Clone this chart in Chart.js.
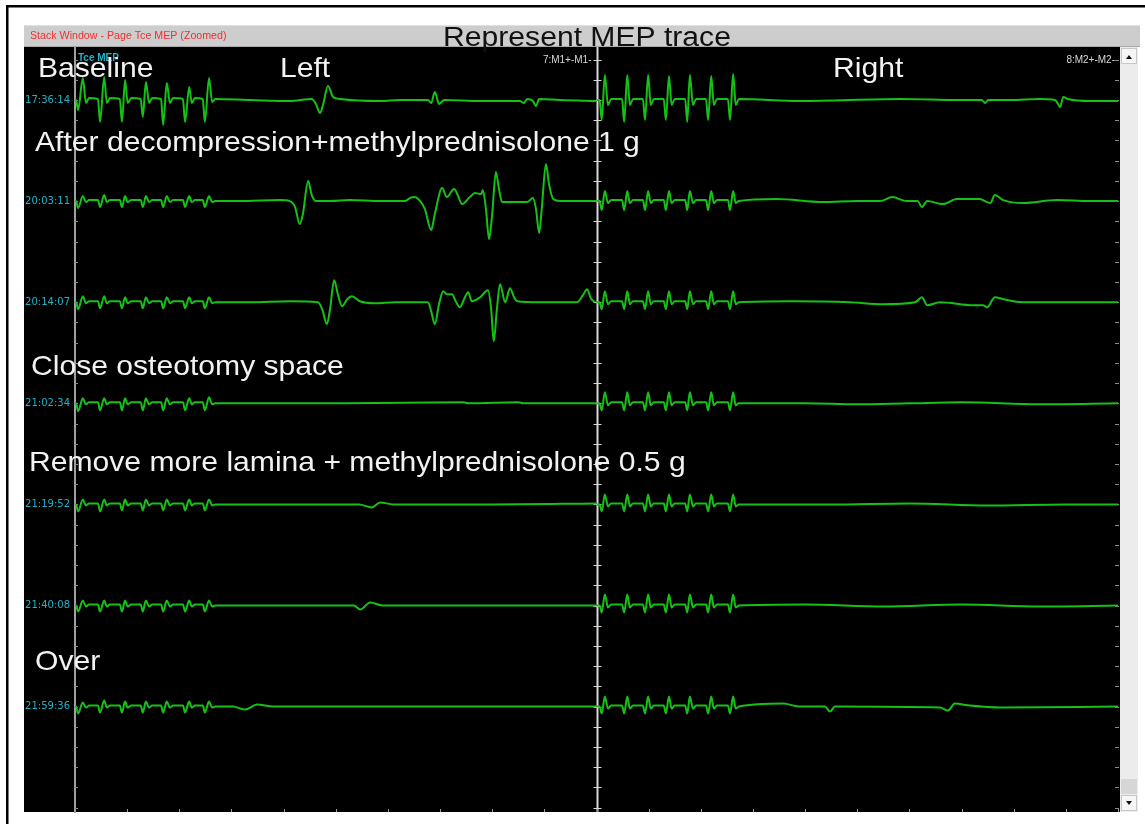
<!DOCTYPE html>
<html>
<head>
<meta charset="utf-8">
<script src="https://cdn.jsdelivr.net/npm/chart.js@4.4.0/dist/chart.umd.min.js"></script>
<style>
  html, body { margin: 0; padding: 0; background: #fff; }
  canvas { display: block; }
</style>
</head>
<body>
<canvas id="c" width="1145" height="824"></canvas>
<script>
// ---------------- DATA ----------------
const chartTitle = 'Represent MEP trace';
const windowCaption = 'Stack Window - Page Tce MEP (Zoomed)';
const pageLabel = 'Tce MEP';
const channelLabels = ['7:M1+-M1-', '8:M2+-M2-'];
const sideLabels = ['Left', 'Right'];
const timestamps = ['17:36:14', '20:03:11', '20:14:07', '21:02:34', '21:19:52', '21:40:08', '21:59:36'];
const stageNotes = ['Baseline', 'After decompression+methylprednisolone 1 g', 'Close osteotomy space',
                    'Remove more lamina + methylprednisolone 0.5 g', 'Over'];

// each trace: [time (ms), deflection (display units, up = positive)]
const left1 = [[0,0],[0.2,0],[0.6,-10],[1.5,22],[2.1,-3],[2.7,2],
  [4.4,1],[4.8,-22],[5.6,23],[6.1,-3],[6.7,2],
  [8.6,1],[9.0,-22],[9.6,20],[10.1,-3],[10.8,2],
  [12.6,1],[13.0,-17],[13.6,18],[14.2,-3],[14.8,2],
  [16.5,1],[16.9,-25],[17.6,17],[18.2,-3],[18.8,2],
  [20.7,1],[21.1,-22],[21.9,13],[22.4,-3],[23.0,2],
  [24.5,1],[24.9,-22],[25.7,22],[26.3,-2],[26.9,1],
  [33.6,0],[41.2,-1],[45.4,1],[46.2,-4],[47.0,-13],[47.6,-4],[48.5,14],[49.5,3],[50.8,1],[58.5,-1],
  [62.3,0],[67.7,0],[68.3,-3],[69.0,8],[69.8,-4],[70.8,0],[77.7,-1],[85.3,-1],[86.1,-3],[86.7,1],
  [87.8,-1],[88.4,-6],[89.0,1],[93.0,0],[99.9,-1]];
const right1 = [[100,0],[100.6,0],[101.0,-20],[101.6,25],[102.2,-5],[102.8,1],
  [104.9,1],[105.3,-22],[105.9,25],[106.4,-5],[107.0,1],
  [108.9,1],[109.3,-20],[109.9,25],[110.4,-5],[111.0,1],
  [112.9,1],[113.3,-20],[113.9,24],[114.4,-5],[115.0,1],
  [117.0,1],[117.4,-22],[117.9,25],[118.5,-5],[119.1,1],
  [121.0,1],[121.4,-20],[122.0,24],[122.5,-5],[123.1,1],
  [125.2,1],[125.6,-20],[126.2,26],[126.7,-5],[127.3,1],
  [139.0,-1],[158.2,1],[169.7,0],[173.9,0],[174.5,-3],[175.1,0],[179.3,0],[185.0,1],[187.9,0],
  [188.5,-4],[188.9,-7],[189.5,3],[190.4,1],[194.6,-1],[200,-1]];

const left2 = [[0,0],[0.2,0],[0.6,-7],[1.5,5],[2.1,-1],[2.7,1],
  [4.4,1],[4.8,-6],[5.6,6],[6.1,-1],[6.7,1],
  [8.6,1],[9.0,-6],[9.6,5],[10.1,-1],[10.8,1],
  [12.6,1],[13.0,-6],[13.6,5],[14.2,-1],[14.8,1],
  [16.5,1],[16.9,-6],[17.6,5],[18.2,-1],[18.8,1],
  [20.7,1],[21.1,-6],[21.9,5],[22.4,-1],[23.0,1],
  [24.5,1],[24.9,-6],[25.7,5],[26.3,-1],[26.9,0],
  [31.6,0],[39.3,1],[41.2,0],[42.2,-6],[43.1,-23],[43.7,-13],[44.7,20],[45.4,6],[46.2,0],[48.9,0],
  [52.7,1],[58.5,0],[63.3,0],[64.2,3],[65.0,4],[66.2,0],[67.1,-8],[68.3,-29],[69.0,-13],[70.4,13],
  [71.3,4],[72.7,12],[73.4,6],[74.2,-3],[75.7,4],[76.7,8],[77.9,7],[78.2,11],[78.8,-8],[79.4,-38],
  [80.0,-13],[80.7,29],[81.3,12],[81.9,-1],[86.7,-1],[87.8,3],[88.4,-8],[89.0,-32],[89.5,-8],
  [90.3,37],[90.9,17],[91.7,2],[93.0,0],[99.9,0]];
const right2 = [[100,0],[100.6,0],[101.0,-9],[101.6,10],[102.2,-2],[102.8,1],
  [104.9,1],[105.3,-9],[105.9,10],[106.4,-2],[107.0,1],
  [108.9,1],[109.3,-9],[109.9,10],[110.4,-2],[111.0,1],
  [112.9,1],[113.3,-9],[113.9,10],[114.4,-2],[115.0,1],
  [117.0,1],[117.4,-9],[117.9,10],[118.5,-2],[119.1,1],
  [121.0,1],[121.4,-9],[122.0,10],[122.5,-2],[123.1,1],
  [125.2,1],[125.6,-9],[126.2,10],[126.7,-2],[127.3,0],
  [134.6,2],[143.4,-1],[150.0,0],[154.4,0],[156.7,4],[159.5,0],[161.6,0],[162.4,-6],[163.4,0],
  [166.4,-3],[169.1,2],[173.5,2],[174.9,-1],[175.5,-2],[176.4,6],[178.0,1],[181.8,-2],[188.3,1],
  [194.6,0],[200,0]];

const left3 = [[0,0],[0.2,0],[0.6,-7],[1.5,6],[2.1,-1],[2.7,1],
  [4.4,1],[4.8,-6],[5.6,6],[6.1,-1],[6.7,1],
  [8.6,1],[9.0,-6],[9.6,5],[10.1,-1],[10.8,1],
  [12.6,1],[13.0,-6],[13.6,5],[14.2,-1],[14.8,1],
  [16.5,1],[16.9,-6],[17.6,5],[18.2,-1],[18.8,1],
  [20.7,1],[21.1,-6],[21.9,5],[22.4,-1],[23.0,1],
  [24.5,1],[24.9,-6],[25.7,5],[26.3,-1],[26.9,0],
  [33.6,0],[41.2,1],[46.6,0],[47.4,-7],[48.3,-22],[48.9,-7],[49.7,22],[50.4,8],[51.2,-4],[52.2,3],
  [53.1,6],[54.6,1],[57.5,-1],[61.4,0],[67.7,0],[68.3,-9],[69.0,-22],[69.8,-2],[70.6,11],[71.3,8],
  [72.3,8],[73.0,1],[73.8,-5],[74.6,3],[75.4,10],[76.1,1],[77.7,5],[79.2,12],[79.8,-7],[80.3,-39],
  [80.9,-7],[81.5,18],[82.5,0],[83.4,14],[84.2,5],[84.8,1],[89.2,0],[96.3,0],[97.4,7],[98.2,13],
  [98.9,4],[99.7,0]];
const right3 = [[100,0],[100.6,0],[101.0,-7],[101.6,11],[102.2,-2],[102.8,1],
  [104.9,1],[105.3,-7],[105.9,11],[106.4,-2],[107.0,1],
  [108.9,1],[109.3,-7],[109.9,11],[110.4,-2],[111.0,1],
  [112.9,1],[113.3,-7],[113.9,11],[114.4,-2],[115.0,1],
  [117.0,1],[117.4,-7],[117.9,11],[118.5,-2],[119.1,1],
  [121.0,1],[121.4,-7],[122.0,11],[122.5,-2],[123.1,1],
  [125.2,1],[125.6,-7],[126.2,11],[126.7,-2],[127.3,0],
  [137.1,1],[148.6,0],[154.9,-2],[161.1,0],[162.4,5],[163.4,-3],[165.9,0],[172.2,-3],[174.1,-3],
  [174.9,-5],[176.4,5],[178.0,3],[181.8,0],[200,0]];

const left4 = [[0,0],[0.2,0],[0.6,-8],[1.5,5],[2.1,-1],[2.7,1],
  [4.4,1],[4.8,-7],[5.6,5],[6.1,-1],[6.7,1],
  [8.6,1],[9.0,-7],[9.6,5],[10.1,-1],[10.8,1],
  [12.6,1],[13.0,-7],[13.6,5],[14.2,-1],[14.8,1],
  [16.5,1],[16.9,-7],[17.6,5],[18.2,-1],[18.8,1],
  [20.7,1],[21.1,-7],[21.9,5],[22.4,-1],[23.0,1],
  [24.5,1],[24.9,-7],[25.7,6],[26.3,-1],[26.9,0],
  [35,0],[52,0],[74.4,1],[75.5,0],[85,1],[86,0],[99.9,0]];
const right4 = [[100,0],[100.6,0],[101.0,-7],[101.6,11],[102.2,-2],[102.8,1],
  [104.9,1],[105.3,-7],[105.9,11],[106.4,-2],[107.0,1],
  [108.9,1],[109.3,-7],[109.9,11],[110.4,-2],[111.0,1],
  [112.9,1],[113.3,-7],[113.9,11],[114.4,-2],[115.0,1],
  [117.0,1],[117.4,-7],[117.9,11],[118.5,-2],[119.1,1],
  [121.0,1],[121.4,-7],[122.0,11],[122.5,-2],[123.1,1],
  [125.2,1],[125.6,-7],[126.2,11],[126.7,-2],[127.3,0],
  [140,0],[150,-1],[160,0],[170,1],[185,-1],[200,0]];

const left5 = [[0,0],[0.2,0],[0.6,-7],[1.5,5],[2.1,-1],[2.7,1],
  [4.4,1],[4.8,-7],[5.6,5],[6.1,-1],[6.7,1],
  [8.6,1],[9.0,-6],[9.6,5],[10.1,-1],[10.8,1],
  [12.6,1],[13.0,-6],[13.6,5],[14.2,-1],[14.8,1],
  [16.5,1],[16.9,-6],[17.6,5],[18.2,-1],[18.8,1],
  [20.7,1],[21.1,-6],[21.9,5],[22.4,-1],[23.0,1],
  [24.5,1],[24.9,-6],[25.7,5],[26.3,-1],[26.9,0],
  [35,0],[54.5,0],[56.9,-3],[58.5,2],[61,0],[80,0],[99.9,1]];
const right5 = [[100,0],[100.6,0],[101.0,-7],[101.6,10],[102.2,-2],[102.8,1],
  [104.9,1],[105.3,-7],[105.9,10],[106.4,-2],[107.0,1],
  [108.9,1],[109.3,-7],[109.9,10],[110.4,-2],[111.0,1],
  [112.9,1],[113.3,-7],[113.9,10],[114.4,-2],[115.0,1],
  [117.0,1],[117.4,-7],[117.9,10],[118.5,-2],[119.1,1],
  [121.0,1],[121.4,-7],[122.0,10],[122.5,-2],[123.1,1],
  [125.2,1],[125.6,-7],[126.2,10],[126.7,-2],[127.3,0],
  [145,0],[160,1],[175,-1],[190,0],[200,0]];

const left6 = [[0,0],[0.2,0],[0.6,-6],[1.5,5],[2.1,-1],[2.7,1],
  [4.4,1],[4.8,-6],[5.6,5],[6.1,-1],[6.7,1],
  [8.6,1],[9.0,-6],[9.6,5],[10.1,-1],[10.8,1],
  [12.6,1],[13.0,-6],[13.6,5],[14.2,-1],[14.8,1],
  [16.5,1],[16.9,-6],[17.6,5],[18.2,-1],[18.8,1],
  [20.7,1],[21.1,-6],[21.9,5],[22.4,-1],[23.0,1],
  [24.5,1],[24.9,-6],[25.7,5],[26.3,-1],[26.9,0],
  [35,0],[53.5,0],[54.7,-4],[56.6,3],[59,0],[80,0],[99.9,0]];
const right6 = [[100,0],[100.6,0],[101.0,-7],[101.6,11],[102.2,-2],[102.8,1],
  [104.9,1],[105.3,-7],[105.9,11],[106.4,-2],[107.0,1],
  [108.9,1],[109.3,-7],[109.9,11],[110.4,-2],[111.0,1],
  [112.9,1],[113.3,-7],[113.9,11],[114.4,-2],[115.0,1],
  [117.0,1],[117.4,-7],[117.9,11],[118.5,-2],[119.1,1],
  [121.0,1],[121.4,-7],[122.0,11],[122.5,-2],[123.1,1],
  [125.2,1],[125.6,-7],[126.2,11],[126.7,-2],[127.3,0],
  [140,1],[155,-1],[170,1],[185,-1],[200,0]];

const left7 = [[0,0],[0.2,0],[0.6,-7],[1.5,4],[2.1,-1],[2.7,1],
  [4.4,1],[4.8,-6],[5.6,6],[6.1,-1],[6.7,1],
  [8.6,1],[9.0,-6],[9.6,5],[10.1,-1],[10.8,1],
  [12.6,1],[13.0,-6],[13.6,5],[14.2,-1],[14.8,1],
  [16.5,1],[16.9,-6],[17.6,5],[18.2,-1],[18.8,1],
  [20.7,1],[21.1,-6],[21.9,5],[22.4,-1],[23.0,1],
  [24.5,1],[24.9,-6],[25.7,5],[26.3,-1],[26.9,0],
  [30.3,0],[32.6,-3],[34.9,2],[38.0,0],[60,0],[80,0],[99.9,0]];
const right7 = [[100,0],[100.6,0],[101.0,-7],[101.6,10],[102.2,-2],[102.8,1],
  [104.9,1],[105.3,-7],[105.9,10],[106.4,-2],[107.0,1],
  [108.9,1],[109.3,-7],[109.9,10],[110.4,-2],[111.0,1],
  [112.9,1],[113.3,-7],[113.9,10],[114.4,-2],[115.0,1],
  [117.0,1],[117.4,-7],[117.9,10],[118.5,-2],[119.1,1],
  [121.0,1],[121.4,-7],[122.0,10],[122.5,-2],[123.1,1],
  [125.2,1],[125.6,-7],[126.2,10],[126.7,-2],[127.3,0],
  [135.8,3],[139.0,0],[143.8,0],[144.8,-5],[145.7,0],[165.9,-1],[167.4,-4],[168.7,3],[171.6,1],
  [177.4,-1],[200,0]];

const leftTraces = [left1, left2, left3, left4, left5, left6, left7];
const rightTraces = [right1, right2, right3, right4, right5, right6, right7];

// ---------------- LAYOUT / STYLE ----------------
const rowSpacing = 101.1;
const W = 1145, H = 824;
const traceColor = '#17c017';
const cyan = '#22b2c6';

function toDataset(trace, row) {
  return {
    data: trace.map(([t, v]) => ({ x: t, y: v - row * rowSpacing })),
    borderColor: traceColor,
    borderWidth: 2,
    pointRadius: 0,
    cubicInterpolationMode: 'monotone',
    tension: 0.4,
    fill: false,
    borderJoinStyle: 'round'
  };
}
const datasets = [];
leftTraces.forEach((tr, r) => datasets.push(toDataset(tr, r)));
rightTraces.forEach((tr, r) => datasets.push(toDataset(tr, r)));

function drawText(ctx, s, x, y, font, color, sx, align) {
  ctx.save();
  ctx.font = font;
  ctx.fillStyle = color;
  ctx.textBaseline = 'alphabetic';
  ctx.textAlign = align || 'left';
  ctx.translate(x, y);
  ctx.scale(sx || 1, 1);
  ctx.fillText(s, 0, 0);
  ctx.restore();
}

const framePlugin = {
  id: 'frame',
  beforeDraw(chart) {
    const ctx = chart.ctx;
    const a = chart.chartArea;
    ctx.save();
    ctx.fillStyle = '#ffffff';
    ctx.fillRect(0, 0, W, H);
    // outer frame
    ctx.fillStyle = '#000';
    ctx.fillRect(6, 5, W - 6, 2.5);
    ctx.fillRect(6, 5, 2.5, H - 5);
    // title bar
    ctx.fillStyle = '#cdcdcd';
    ctx.fillRect(24, 25, 1116, 22);
    ctx.fillStyle = '#e0e0e0';
    ctx.fillRect(24, 25, 1116, 1);
    ctx.fillStyle = '#a9a9a9';
    ctx.fillRect(24, 46, 1116, 1);
    // black plot window
    ctx.fillStyle = '#000';
    ctx.fillRect(24, a.top, a.right + 2 - 24, a.bottom - a.top);
    // scrollbar
    const sx = a.right + 2;
    ctx.fillStyle = '#ececec';
    ctx.fillRect(sx, a.top, 18, a.bottom - a.top);
    ctx.fillStyle = '#f6f6f6';
    ctx.fillRect(sx + 1, a.top + 1, 16, 16);
    ctx.fillRect(sx + 1, a.bottom - 17, 16, 16);
    ctx.fillStyle = '#d6d6d6';
    ctx.fillRect(sx + 1, a.bottom - 33, 16, 15);
    ctx.strokeStyle = '#c8c8c8';
    ctx.lineWidth = 1;
    ctx.strokeRect(sx + 1.5, a.top + 1.5, 15, 15);
    ctx.strokeRect(sx + 1.5, a.bottom - 16.5, 15, 15);
    ctx.fillStyle = '#111';
    ctx.beginPath();
    ctx.moveTo(sx + 6, a.top + 12); ctx.lineTo(sx + 12, a.top + 12); ctx.lineTo(sx + 9, a.top + 8); ctx.closePath();
    ctx.fill();
    ctx.beginPath();
    ctx.moveTo(sx + 6, a.bottom - 11); ctx.lineTo(sx + 12, a.bottom - 11); ctx.lineTo(sx + 9, a.bottom - 7); ctx.closePath();
    ctx.fill();
    ctx.restore();
  },
  beforeDatasetsDraw(chart) {
    const ctx = chart.ctx;
    const a = chart.chartArea;
    const xs = chart.scales.x, ys = chart.scales.y;
    const mid = Math.round(xs.getPixelForValue(100)) + 0.5;
    ctx.save();
    // channel divider
    ctx.strokeStyle = '#d8d8d8';
    ctx.lineWidth = 2;
    ctx.beginPath(); ctx.moveTo(mid, a.top); ctx.lineTo(mid, a.bottom); ctx.stroke();
    ctx.lineWidth = 1;
    ys.ticks.forEach(t => {
      const y = Math.round(ys.getPixelForValue(t.value)) + 0.5;
      ctx.strokeStyle = '#d8d8d8';
      ctx.beginPath(); ctx.moveTo(mid - 4, y); ctx.lineTo(mid + 4, y); ctx.stroke();
      ctx.strokeStyle = '#8a8a8a';
      ctx.beginPath(); ctx.moveTo(a.left, y); ctx.lineTo(a.left + 3, y); ctx.stroke();
      ctx.beginPath(); ctx.moveTo(a.right - 3, y); ctx.lineTo(a.right + 1, y); ctx.stroke();
    });
    // bottom time ticks
    ctx.strokeStyle = '#9a9a9a';
    xs.ticks.forEach(t => {
      const x = Math.round(xs.getPixelForValue(t.value)) + 0.5;
      ctx.beginPath(); ctx.moveTo(x, a.bottom - 3); ctx.lineTo(x, a.bottom); ctx.stroke();
    });
    ctx.restore();
  },
  afterDraw(chart) {
    const ctx = chart.ctx;
    const a = chart.chartArea;
    const xs = chart.scales.x;
    const mid = xs.getPixelForValue(100);
    // window caption + title
    drawText(ctx, windowCaption, 30, 39, '10px "Liberation Sans", Arial, sans-serif', '#f03030', 1.065);
    drawText(ctx, chartTitle, 587, 46, '27px "Liberation Sans", Arial, sans-serif', '#111', 1.115, 'center');
    // page + channel labels
    drawText(ctx, pageLabel, 78, 61, 'bold 10px "Liberation Sans", Arial, sans-serif', cyan, 1);
    drawText(ctx, channelLabels[0], mid - 5, 63, '10px "Liberation Sans", Arial, sans-serif', '#d8d8d8', 1, 'right');
    drawText(ctx, channelLabels[1], a.right - 3, 63, '10px "Liberation Sans", Arial, sans-serif', '#d8d8d8', 1, 'right');
    // annotations
    const big = '28px "Liberation Sans", Arial, sans-serif';
    const white = '#f2f2f2';
    drawText(ctx, stageNotes[0], 38, 77, big, white, 1.075);
    drawText(ctx, sideLabels[0], 280, 77, big, white, 1.075);
    drawText(ctx, sideLabels[1], 833, 77, big, white, 1.075);
    drawText(ctx, stageNotes[1], 35, 151, big, white, 1.075);
    drawText(ctx, stageNotes[2], 31, 375, big, white, 1.075);
    drawText(ctx, stageNotes[3], 29, 471, big, white, 1.075);
    drawText(ctx, stageNotes[4], 35, 670, big, white, 1.075);
  }
};

new Chart(document.getElementById('c'), {
  type: 'line',
  data: { datasets },
  options: {
    responsive: false,
    animation: false,
    events: [],
    devicePixelRatio: 1,
    layout: { padding: { top: 47, right: 27, left: 0, bottom: 0 } },
    plugins: { legend: { display: false }, tooltip: { enabled: false } },
    scales: {
      x: {
        type: 'linear', min: 0, max: 200,
        grid: { display: false, drawTicks: false },
        border: { display: false },
        ticks: { display: false, stepSize: 10 },
        afterFit(s) { s.height = 12; }
      },
      y: {
        type: 'linear', min: -712, max: 53,
        grid: { display: false, drawTicks: false },
        border: { display: true, color: '#a0a0a0', width: 2 },
        afterBuildTicks(s) {
          const t = [];
          for (let k = 2; k >= -35; k--) t.push({ value: k * rowSpacing / 5 });
          s.ticks = t;
        },
        ticks: {
          autoSkip: false,
          color: cyan,
          padding: 5,
          font: { family: 'DejaVu Sans', size: 10 },
          callback(v) {
            const k = Math.round(-v / rowSpacing);
            if (Math.abs(-v - k * rowSpacing) < 0.5 && k >= 0 && k < timestamps.length) return timestamps[k];
            return '';
          }
        },
        afterFit(s) { s.width = 75; }
      }
    }
  },
  plugins: [framePlugin]
});
</script>
</body>
</html>
